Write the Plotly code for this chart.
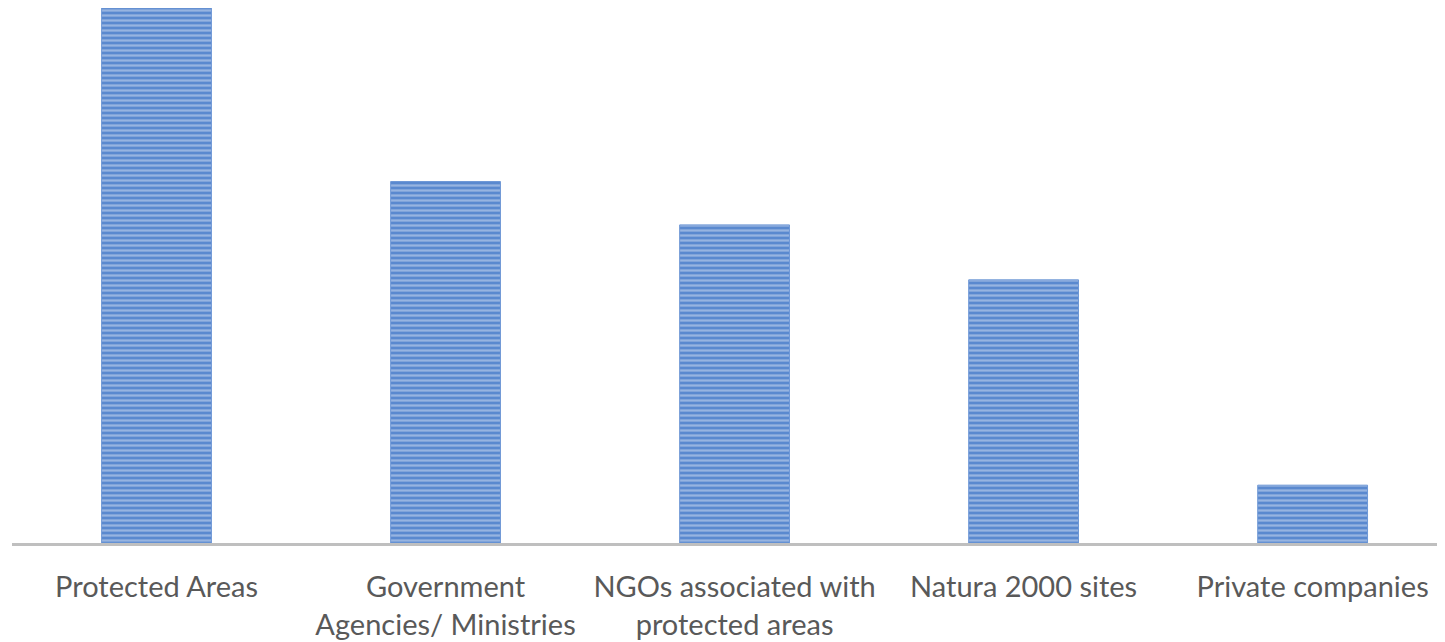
import plotly.graph_objects as go

categories = [
    "Protected Areas",
    "Government<br>Agencies/ Ministries",
    "NGOs associated with<br>protected areas",
    "Natura 2000 sites",
    "Private companies",
]
counts = [37, 25, 22, 18.2, 4]

fig = go.Figure()

fig.add_bar(
    x=categories,
    y=counts,
    width=0.38,
    marker=dict(
        color="#5A89CF",
        line=dict(color="#6F98D6", width=1),
        pattern=dict(
            shape="-",
            fgcolor="#D3E0F2",
            bgcolor="#5A89CF",
            size=5,
            solidity=0.45,
            fillmode="overlay",
        ),
    ),
    showlegend=False,
)

# page body has an 8px margin, so margins are offset to compensate
fig.update_layout(
    width=1445,
    height=642,
    margin=dict(l=4, r=8, t=0, b=107),
    paper_bgcolor="white",
    plot_bgcolor="white",
    font=dict(family="Lato", size=29, color="#595959"),
    bargap=0.62,
)

fig.update_xaxes(
    range=[-0.5, 4.458],
    showline=True,
    linecolor="#BFBFBF",
    linewidth=3,
    showgrid=False,
    ticks="outside",
    ticklen=16,
    tickcolor="rgba(0,0,0,0)",
    tickangle=0,
)
fig.update_yaxes(
    range=[0, 37],
    visible=False,
    showgrid=False,
    zeroline=False,
)

fig.write_html("out.html")
